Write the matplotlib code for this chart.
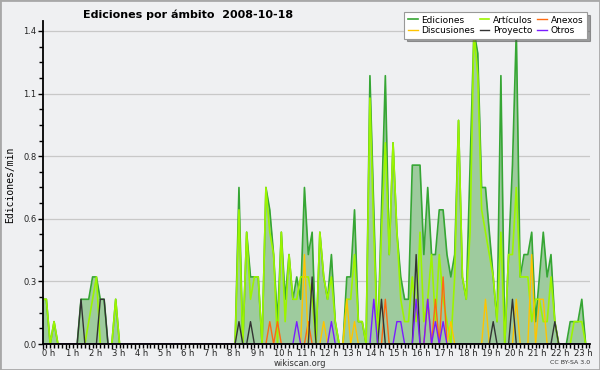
import numpy as np
import matplotlib
matplotlib.use('Agg')
import matplotlib.pyplot as plt
import matplotlib.transforms as mtrans
from matplotlib.patches import Rectangle

# edits per minute, one value per 10-minute bucket (0:00 .. 23:40)
ediciones = [
    .2, .2, 0, .1, 0, 0, 0, 0, 0, 0, .2, .2,
    .2, .3, .3, .2, .2, 0, 0, .2, 0, 0, 0, 0,
    0, 0, 0, 0, 0, 0, 0, 0, 0, 0, 0, 0,
    0, 0, 0, 0, 0, 0, 0, 0, 0, 0, 0, 0,
    0, 0, 0, .7, 0, .5, .3, .3, .3, 0, .7, .6,
    .4, .1, .5, .2, .4, .2, .3, .2, .7, .4, .5, 0,
    .5, .3, .2, .4, .1, 0, 0, .3, .3, .6, .1, .1,
    0, 1.2, .6, 0, .6, 1.2, .4, .9, .5, .3, .2, .2,
    .8, .8, .8, .4, .7, .4, .4, .6, .6, .4, .3, .4,
    1.0, .3, .2, .8, 1.4, 1.3, .7, .7, .5, .3, .1, 1.2,
    0, .4, .8, 1.4, .3, .4, .4, .5, .1, .3, .5, .3,
    .4, .1, 0, 0, 0, .1, .1, .1, .2, 0, 0,
]
articulos = [
    .2, .2, 0, .1, 0, 0, 0, 0, 0, 0, 0, 0,
    .1, .2, .3, 0, 0, 0, 0, .2, 0, 0, 0, 0,
    0, 0, 0, 0, 0, 0, 0, 0, 0, 0, 0, 0,
    0, 0, 0, 0, 0, 0, 0, 0, 0, 0, 0, 0,
    0, 0, 0, .6, 0, .5, .2, .3, .3, 0, .7, .5,
    .4, 0, .5, .1, .4, .2, .2, .3, .3, .3, .2, 0,
    .5, .3, .2, .3, .1, 0, 0, .2, .2, .4, .1, .1,
    0, 1.1, .5, 0, .5, .9, .4, .9, .5, .2, .1, .1,
    .3, .1, .5, .1, .2, .4, .1, .4, .2, .1, 0, .3,
    1.0, .3, .2, .5, 1.4, 1.2, .6, .5, .4, .3, .1, .5,
    0, .4, .4, .7, .3, .3, .3, .1, .2, .2, .1, .1,
    .3, .1, 0, 0, 0, 0, .1, .1, .1, 0, 0,
]
anexos = [
    0, 0, 0, 0, 0, 0, 0, 0, 0, 0, 0, 0,
    0, 0, 0, 0, 0, 0, 0, 0, 0, 0, 0, 0,
    0, 0, 0, 0, 0, 0, 0, 0, 0, 0, 0, 0,
    0, 0, 0, 0, 0, 0, 0, 0, 0, 0, 0, 0,
    0, 0, 0, 0, 0, 0, 0, 0, 0, 0, 0, .1,
    0, .1, 0, 0, 0, 0, 0, 0, 0, .1, 0, 0,
    0, 0, 0, 0, 0, 0, 0, 0, 0, 0, 0, 0,
    0, 0, 0, 0, 0, .2, 0, 0, 0, 0, 0, 0,
    0, 0, 0, 0, .2, 0, .2, 0, .3, 0, 0, 0,
    0, 0, 0, 0, 0, 0, 0, 0, 0, 0, 0, 0,
    0, 0, 0, 0, 0, 0, 0, 0, 0, 0, 0, 0,
    0, 0, 0, 0, 0, 0, 0, 0, 0, 0, 0,
]
discusiones = [
    0, 0, 0, 0, 0, 0, 0, 0, 0, 0, 0, 0,
    0, 0, 0, 0, 0, 0, 0, 0, 0, 0, 0, 0,
    0, 0, 0, 0, 0, 0, 0, 0, 0, 0, 0, 0,
    0, 0, 0, 0, 0, 0, 0, 0, 0, 0, 0, 0,
    0, 0, 0, 0, 0, 0, 0, 0, 0, 0, 0, 0,
    0, 0, 0, 0, 0, 0, 0, 0, .4, 0, 0, 0,
    0, .1, 0, 0, 0, 0, 0, .2, 0, .1, 0, 0,
    0, 0, 0, 0, 0, 0, 0, 0, 0, 0, 0, 0,
    0, 0, 0, 0, 0, 0, 0, 0, 0, 0, .1, 0,
    0, 0, 0, 0, 0, 0, 0, .2, 0, 0, 0, 0,
    0, 0, 0, .2, 0, 0, 0, .4, 0, .2, .2, 0,
    0, 0, 0, 0, 0, 0, 0, 0, 0, 0, 0,
]
proyecto = [
    0, 0, 0, 0, 0, 0, 0, 0, 0, 0, .2, 0,
    0, 0, 0, .2, .2, 0, 0, 0, 0, 0, 0, 0,
    0, 0, 0, 0, 0, 0, 0, 0, 0, 0, 0, 0,
    0, 0, 0, 0, 0, 0, 0, 0, 0, 0, 0, 0,
    0, 0, 0, .1, 0, 0, .1, 0, 0, 0, 0, 0,
    0, 0, 0, 0, 0, 0, 0, 0, 0, 0, .3, 0,
    0, 0, 0, 0, 0, 0, 0, 0, 0, 0, 0, 0,
    0, 0, 0, 0, .2, 0, 0, 0, 0, 0, 0, 0,
    0, .4, 0, 0, 0, 0, 0, 0, 0, 0, 0, 0,
    0, 0, 0, 0, 0, 0, 0, 0, 0, .1, 0, 0,
    0, 0, .2, 0, 0, 0, 0, 0, 0, 0, 0, 0,
    0, .1, 0, 0, 0, 0, 0, 0, 0, 0, 0,
]
otros = [
    0, 0, 0, 0, 0, 0, 0, 0, 0, 0, 0, 0,
    0, 0, 0, 0, 0, 0, 0, 0, 0, 0, 0, 0,
    0, 0, 0, 0, 0, 0, 0, 0, 0, 0, 0, 0,
    0, 0, 0, 0, 0, 0, 0, 0, 0, 0, 0, 0,
    0, 0, 0, 0, 0, 0, 0, 0, 0, 0, 0, 0,
    0, 0, 0, 0, 0, 0, .1, 0, 0, 0, 0, 0,
    0, 0, 0, .1, 0, 0, 0, 0, 0, 0, 0, 0,
    0, 0, .2, 0, 0, 0, 0, 0, .1, .1, 0, 0,
    0, .2, 0, 0, .2, 0, .1, 0, .1, 0, 0, 0,
    0, 0, 0, 0, 0, 0, 0, 0, 0, 0, 0, 0,
    0, 0, 0, 0, 0, 0, 0, 0, 0, 0, 0, 0,
    0, 0, 0, 0, 0, 0, 0, 0, 0, 0, 0,
]

hours = list(range(24))
hour_labels = [f"{h} h" for h in hours]
ytick_vals = [0.0, 0.28, 0.56, 0.84, 1.12, 1.4]
ytick_labels = ["0.0", "0.3", "0.6", "0.8", "1.1", "1.4"]

BG = '#eff0f2'
t = np.arange(len(ediciones)) / 6.0

fig = plt.figure(figsize=(6, 3.7), dpi=100, facecolor=BG)
ax = fig.add_axes([42.5 / 600, 26 / 370, 547 / 600, 323 / 370])
ax.set_facecolor(BG)

# filled total, then one line per namespace
ax.fill_between(t, ediciones, color='#9ecb9e', lw=0)
ax.plot(t, ediciones, color='#36a634', lw=1.2, label='Ediciones')
ax.plot(t, articulos, color='#9cf500', lw=1.2, label='Artículos')
ax.plot(t, anexos, color='#ff6a10', lw=1.0, label='Anexos')
ax.plot(t, discusiones, color='#ffc400', lw=1.0, label='Discusiones')
ax.plot(t, proyecto, color='#333333', lw=1.0, label='Proyecto')
ax.plot(t, otros, color='#7a1cff', lw=1.0, label='Otros')

ax.set_xlim(0, t[-1])
ax.set_ylim(0, 323 / 223.6)

ax.set_yticks(ytick_vals)
ax.set_yticklabels(ytick_labels)
ax.set_yticks(np.arange(0, 1.42, 0.07), minor=True)
ax.set_xticks(hours)
ax.set_xticklabels(hour_labels, ha='left')
ax.set_xticks(np.arange(0, t[-1] + 0.01, 1 / 6), minor=True)
shift = mtrans.ScaledTranslation(-2.5 / 100, 0, fig.dpi_scale_trans)
for lab in ax.get_xticklabels():
    lab.set_transform(lab.get_transform() + shift)

ax.tick_params(axis='both', which='major', direction='out', length=3.5, width=1,
               labelsize=6, colors='black', labelcolor='#222222', pad=1)
ax.tick_params(axis='x', which='major', pad=0)
ax.tick_params(axis='both', which='minor', direction='out', length=3, width=1)
ax.yaxis.grid(True, which='major', color='#c8c8c8', lw=0.9)
ax.set_axisbelow(True)
for s in ['top', 'right']:
    ax.spines[s].set_visible(False)
for s in ['left', 'bottom']:
    ax.spines[s].set_linewidth(1.3)

fig.text(188 / 600, 1 - 15 / 370, 'Ediciones por ámbito  2008-10-18',
         ha='center', va='center', fontsize=8, fontweight='bold')
fig.text(10 / 600, 1 - 185 / 370, 'Ediciones/min', rotation=90,
         ha='center', va='center', fontsize=7, family='DejaVu Sans Mono')
fig.text(300 / 600, 1 - 363 / 370, 'wikiscan.org', ha='center', va='center',
         fontsize=6, color='#333333')
fig.text(590 / 600, 1 - 363 / 370, 'CC BY-SA 3.0', ha='right', va='center',
         fontsize=4.5, color='#333333')

handles, labels = ax.get_legend_handles_labels()
order = [0, 3, 1, 4, 2, 5]
leg = fig.legend([handles[k] for k in order], [labels[k] for k in order],
                 ncol=3, loc='upper right', bbox_to_anchor=(587 / 600, 1 - 12 / 370),
                 fontsize=6.5, frameon=True, fancybox=False, shadow=True,
                 handlelength=1.1, handletextpad=0.4, columnspacing=0.5,
                 labelspacing=0.15, borderpad=0.4, borderaxespad=0)
leg.get_frame().set_edgecolor('#999999')
leg.get_frame().set_linewidth(0.8)

fig.patches.append(Rectangle((0, 0), 1, 1, transform=fig.transFigure, fill=False,
                             edgecolor='#a8a8a8', lw=2))

fig.savefig('out.png', dpi=100, facecolor=BG)
